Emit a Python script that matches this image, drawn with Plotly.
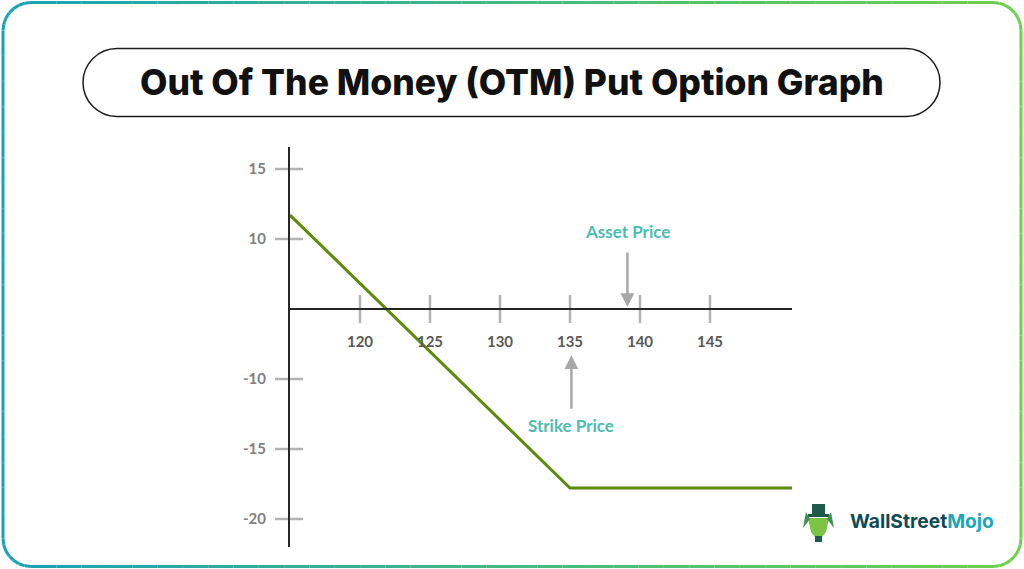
import plotly.graph_objects as go
import numpy as np

W, H = 1024, 569

# ---- data ----
payoff_x = [115, 135, 150.86]
payoff_y = [6.71, -12.79, -12.79]
x_ticks = [120, 125, 130, 135, 140, 145]
x_tick_labels = ["120", "125", "130", "135", "140", "145"]
y_ticks = [10, 5, -5, -10, -15]
y_tick_labels = ["15", "10", "-10", "-15", "-20"]
asset_price = 139.1
strike_price = 135.1

def px(x):
    return x / W

def py(y):
    return 1 - y / H

fig = go.Figure()
fig.add_trace(go.Scatter(x=payoff_x, y=payoff_y, mode="lines",
                         line=dict(color="#5b8c0c", width=3), hoverinfo="skip",
                         showlegend=False))

shapes = []

# outer gradient rounded border
def rr_points(x0, y0, x1, y1, r, n=10):
    pts = []
    def arc(cx, cy, a0, a1):
        for a in np.linspace(a0, a1, n):
            pts.append((cx + r * np.cos(a), cy + r * np.sin(a)))
    arc(x0 + r, y0 + r, np.pi, 1.5 * np.pi)
    arc(x1 - r, y0 + r, 1.5 * np.pi, 2 * np.pi)
    arc(x1 - r, y1 - r, 0, 0.5 * np.pi)
    arc(x0 + r, y1 - r, 0.5 * np.pi, np.pi)
    pts.append(pts[0])
    return pts

def interp_col(t):
    c0 = np.array([0x19, 0xa2, 0xb6])
    c1 = np.array([0x6e, 0xd1, 0x4c])
    c = (c0 + (c1 - c0) * t).astype(int)
    return "rgb(%d,%d,%d)" % tuple(c)

pts = rr_points(3, 2.5, 1021, 566.5, 28, n=8)
dense = []
for (a, b) in zip(pts[:-1], pts[1:]):
    seg_len = np.hypot(b[0] - a[0], b[1] - a[1])
    k = max(1, int(seg_len // 25))
    for i in range(k):
        dense.append((a[0] + (b[0] - a[0]) * i / k, a[1] + (b[1] - a[1]) * i / k))
dense.append(pts[-1])
for (a, b) in zip(dense[:-1], dense[1:]):
    t = ((a[0] + b[0]) / 2 - 3) / 1018
    t = min(max(t, 0), 1)
    shapes.append(dict(type="line", xref="paper", yref="paper",
                       x0=px(a[0]), y0=py(a[1]), x1=px(b[0]), y1=py(b[1]),
                       line=dict(color=interp_col(t), width=3)))

# title pill
x0, x1, y0, y1 = 83, 940, 48.5, 116.5
r = (y1 - y0) / 2
k = 0.5523 * r
path = (f"M {px(x0+r)},{py(y0)} L {px(x1-r)},{py(y0)} "
        f"C {px(x1-r+k)},{py(y0)} {px(x1)},{py(y0+r-k)} {px(x1)},{py(y0+r)} "
        f"C {px(x1)},{py(y0+r+k)} {px(x1-r+k)},{py(y1)} {px(x1-r)},{py(y1)} "
        f"L {px(x0+r)},{py(y1)} "
        f"C {px(x0+r-k)},{py(y1)} {px(x0)},{py(y0+r+k)} {px(x0)},{py(y0+r)} "
        f"C {px(x0)},{py(y0+r-k)} {px(x0+r-k)},{py(y0)} {px(x0+r)},{py(y0)} Z")
shapes.append(dict(type="path", xref="paper", yref="paper", path=path,
                   line=dict(color="#1a1a1a", width=1.5)))

# crossing tick marks
for xv in x_ticks:
    shapes.append(dict(type="line", xref="x", yref="y", x0=xv, x1=xv, y0=-1, y1=1,
                       line=dict(color="#b3b3b3", width=2.5), layer="below"))
for yv in y_ticks:
    shapes.append(dict(type="line", xref="paper", yref="y", x0=px(275), x1=px(303),
                       y0=yv, y1=yv, line=dict(color="#b3b3b3", width=2.5), layer="below"))

# logo icon (approximation)
ic = "#1f5a4a"
shapes.append(dict(type="rect", xref="paper", yref="paper", x0=px(812), x1=px(825),
                   y0=py(515), y1=py(504), fillcolor=ic, line=dict(width=0)))
shapes.append(dict(type="rect", xref="paper", yref="paper", x0=px(808), x1=px(829),
                   y0=py(517), y1=py(514), fillcolor=ic, line=dict(width=0)))
shapes.append(dict(type="path", xref="paper", yref="paper",
                   path=(f"M {px(808)},{py(518)} L {px(829)},{py(518)} L {px(826)},{py(532)} "
                         f"L {px(822)},{py(537)} L {px(815)},{py(537)} L {px(811)},{py(532)} Z"),
                   fillcolor="#7cc243", line=dict(width=0)))
shapes.append(dict(type="path", xref="paper", yref="paper",
                   path=(f"M {px(803)},{py(528)} L {px(806)},{py(512)} L {px(810)},{py(519)} Z"),
                   fillcolor="#3f8f4f", line=dict(width=0)))
shapes.append(dict(type="path", xref="paper", yref="paper",
                   path=(f"M {px(834)},{py(528)} L {px(831)},{py(512)} L {px(827)},{py(519)} Z"),
                   fillcolor="#3f8f4f", line=dict(width=0)))
shapes.append(dict(type="rect", xref="paper", yref="paper", x0=px(815), x1=px(822),
                   y0=py(542), y1=py(536), fillcolor=ic, line=dict(width=0)))

annotations = [
    dict(text="Out Of The Money (OTM) Put Option Graph", xref="paper", yref="paper",
         x=px(512), y=py(83), xanchor="center", yanchor="middle", showarrow=False,
         font=dict(family="Inter", size=35.5, color="#111111", weight=800)),
    dict(text="Asset Price", x=asset_price, y=py(231), xref="x", yref="paper",
         xanchor="center", yanchor="middle",
         showarrow=False, font=dict(family="Lato", size=17, color="#4dbcb0", weight="bold")),
    dict(text="", x=asset_price, y=0.15, xref="x", yref="y", ax=0, ay=-56,
         showarrow=True, arrowhead=2, arrowsize=1.1, arrowwidth=2.5, arrowcolor="#a8a8a8"),
    dict(text="Strike Price", x=strike_price - 0.05, y=py(425), xref="x", yref="paper",
         xanchor="center", yanchor="middle",
         showarrow=False, font=dict(family="Lato", size=17, color="#4dbcb0", weight="bold")),
    dict(text="", x=strike_price, y=-3.3, xref="x", yref="y", ax=0, ay=55,
         showarrow=True, arrowhead=2, arrowsize=1.1, arrowwidth=2.5, arrowcolor="#a8a8a8"),
    dict(text="<span style='color:#0f4a57'>WallStreet</span><span style='color:#1ca6b8'>Mojo</span>",
         xref="paper", yref="paper", x=px(921.5), y=py(521), xanchor="center", yanchor="middle",
         showarrow=False, font=dict(family="Inter", size=19.2, weight="bold")),
]

fig.update_layout(
    width=W, height=H,
    margin=dict(l=0, r=0, t=0, b=0),
    paper_bgcolor="white", plot_bgcolor="rgba(0,0,0,0)",
    showlegend=False,
    shapes=shapes, annotations=annotations,
    xaxis=dict(domain=[px(290), px(792)], range=[115, 115 + 502 / 14],
               anchor="free", position=py(309),
               showline=True, linecolor="#262626", linewidth=2,
               showgrid=False, zeroline=False, ticks="",
               tickvals=x_ticks, ticktext=x_tick_labels, ticklabelstandoff=19,
               tickfont=dict(family="Lato", size=15, color="#595959", weight="bold")),
    yaxis=dict(domain=[py(547), py(147)], range=[-17, 162 / 14],
               showline=True, linecolor="#262626", linewidth=2,
               showgrid=False, zeroline=False, ticks="",
               tickvals=y_ticks, ticktext=y_tick_labels, ticklabelstandoff=19,
               tickfont=dict(family="Lato", size=15, color="#7f7f7f", weight="bold")),
)

fig.write_html("out.html")
